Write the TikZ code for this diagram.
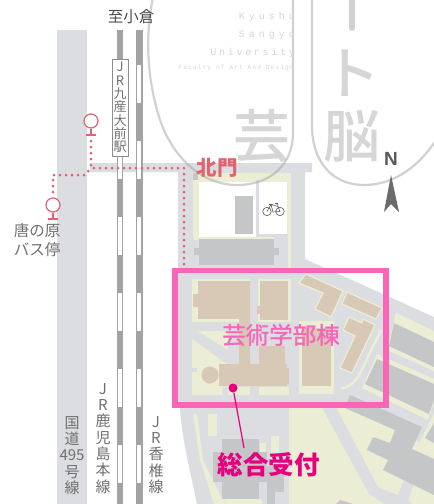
\documentclass[tikz,border=0pt]{standalone}
\usepackage{fontspec}
\setmainfont{Liberation Sans}
\newfontfamily\cjk{Noto Sans CJK JP}
\newfontfamily\cjkheavy[FakeBold=1.2]{Noto Sans CJK JP}
\newfontfamily\cjkmed{Noto Sans CJK JP Medium}
\newfontfamily\kyu[LetterSpace=40]{Liberation Mono}
\newfontfamily\kyumid[LetterSpace=27]{Liberation Mono}
\newfontfamily\kyusmall[LetterSpace=18]{Liberation Mono}
\definecolor{roadc}{HTML}{DCDDE0}
\definecolor{creamc}{HTML}{EBEED5}
\definecolor{greyb}{HTML}{C5C6C8}
\definecolor{tanb}{HTML}{D8C8B6}
\definecolor{railc}{HTML}{A3A3A4}
\definecolor{pinkf}{HTML}{F966B8}
\definecolor{magen}{HTML}{E6007E}
\definecolor{redm}{HTML}{DF6370}
\definecolor{logoc}{HTML}{A5A5A7}
\definecolor{txtc}{HTML}{707070}
\definecolor{kyuc}{HTML}{D5D5D6}
\tikzset{
  road/.style={fill=roadc},
  cream/.style={fill=creamc},
  greybld/.style={fill=greyb},
  tanbld/.style={fill=tanb,draw=creamc,line width=1.2pt},
  tanplain/.style={fill=tanb},
  raildark/.style={fill=railc},
  reddots/.style={draw=redm,line width=3pt,line cap=round,dash pattern=on 0pt off 6pt},
  busring/.style={circle,draw=redm,line width=1.2pt,minimum size=14pt,inner sep=0pt,fill=white},
  busstem/.style={draw=redm,line width=1.2pt},
  logoline/.style={draw=logoc,opacity=.5,line width=2.2pt},
  logotext/.style={text=logoc,text opacity=.45,inner sep=0pt,font=\cjkmed\fontsize{57}{57}\selectfont},
  label/.style={text=txtc,inner sep=0pt,align=center},
  vlabel/.style={label,anchor=north,font=\cjk\fontsize{15}{16.3}\selectfont},
  kyutext/.style={text=kyuc,inner sep=0pt,anchor=east},
  bike/.style={draw=black!65,line width=.6pt}
}
\begin{document}
\begin{tikzpicture}[x=1pt,y=-1pt]
\useasboundingbox (0,0) rectangle (434,504);
\clip (0,0) rectangle (434,504);
\fill[white] (0,0) rectangle (434,504);
% left road
\fill[road] (57,30) rectangle (87,504);
% campus ground and access road
\fill[road] (90,163) -- (312,163) -- (312,172) -- (305,172) -- (305,259) -- (434,317) -- (434,504) -- (197,504)
  .. controls (190,470) and (182,440) .. (180,408) -- (178,400) -- (178,172) -- (90,172) -- cycle;
% north block
\fill[cream] (193,173) rectangle (291,268);
\fill[white] (199,182) rectangle (256,237);
\fill[white] (259,182) rectangle (287,234);
\fill[road] (256,180) rectangle (259,237);
\fill[road] (259,234) rectangle (288,268);
\fill[road] (192,238) rectangle (288,268);
\fill[cream] (194,237) rectangle (274,240);
\fill[greybld] (193,173) rectangle (198,180);
\fill[greybld] (235,196) rectangle (253,234);
\fill[greybld] (199,239) rectangle (274,265);
\fill[greybld] (194,248) rectangle (279,255);
% bike
\coordinate (wa) at (267,211.5);
\coordinate (wb) at (280,211.5);
\draw[bike] (wa) circle (4.2pt);
\draw[bike] (wb) circle (4.2pt);
\draw[bike] (wa) -- (271,204.5) -- (278,206.5) -- (280,211.5) -- (273,212) -- (271,204.5);
\draw[bike] (278,206.5) -- (277.5,203.5) -- (275,203.5);
\draw[bike] (269,204) -- (273,204);
% cream inside the framed block
\fill[cream] (192,279) rectangle (253,322);
\fill[cream] (257,279) rectangle (291,322);
\fill[road] (250,279) rectangle (258,322);
\fill[cream] (198,331) -- (228,331) -- (228,350) -- cycle;
\fill[cream] (192,339) -- (228,365) -- (228,387) -- (222,387) -- (222,395) -- (192,395) -- cycle;
\fill[road] (192,368) rectangle (197,372);
\fill[cream] (228,387) rectangle (250,395);
\fill[cream] (259,387) rectangle (289,395);
\fill[cream] (299,321) rectangle (334,394);
% right and lower cream
\fill[cream] (396,313) -- (434,331) -- (434,371) -- (387,350) -- cycle;
\fill[cream] (377,354) -- (434,379) -- (434,402) -- (428,420) -- (362,388) -- cycle;
\fill[cream] (434,413) -- (417,447) -- (434,456) -- cycle;
\fill[cream] (289,405) -- (345,405) -- (434,450) -- (434,504) -- (289,504) -- cycle;
\fill[road] (318,400) -- (332,400) -- (378,487) -- (398,495) -- (404,480) -- (414,484) -- (408,500) -- (412,504) -- (385,504) -- (369,494) -- cycle;
\fill[cream] (193,414) -- (197,414) -- (203,460) -- (225,504) -- (214,504) -- (200,460) -- cycle;
\fill[cream] (208,414) rectangle (217,436);
\fill[cream] (260,443) rectangle (266,452);
\fill[cream] (271,436) rectangle (279,477);
\fill[cream] (222,499) -- (262,499) -- (262,504) -- (226,504) -- cycle;
\draw[creamc,line width=2.5pt] (341,388) .. controls (352,388) and (358,378) .. (364,365) -- (381,330);
% grey buildings
\fill[greybld] (394,323) -- (434,342) -- (434,367) -- (389,346) -- cycle;
\fill[greybld] (377,359) -- (434,384) -- (434,400) -- (429,414) -- (365,384) -- cycle;
\fill[greybld] (425,438) -- (434,423) -- (434,443) -- cycle;
\fill[greybld] (350,395) -- (422,427) -- (412,449) -- (434,459) -- (434,495) -- (383,470) -- (388,460) -- (367,450) -- (373,437) -- (390,443) -- (395,430) -- (345,408) -- cycle;
\fill[greybld] (336,504) -- (340,500) -- (353,504) -- cycle;
\fill[greybld] (222,439) rectangle (259,499);
\fill[greybld] (213,452) rectangle (267,482);
\fill[greybld] (267,466) rectangle (284,492);
\fill[greybld] (267,492) rectangle (275,504);
% tan buildings
\fill[tanplain] (198,281) rectangle (250,319);
\fill[tanplain] (193,294) rectangle (198,307);
\fill[tanplain] (239,319) rectangle (250,364);
\fill[tanplain] (260,281) rectangle (288,320);
\fill[tanplain] (257,306) rectangle (260,314);
\fill[tanplain] (259,346) rectangle (285,364);
\fill[tanplain] (219,364) rectangle (287,386);
\fill[tanplain] (287,368) rectangle (289,384);
\fill[tanplain] (210,375) circle (8.5pt);
\fill[tanplain] (302,328) rectangle (331,386);
\path[tanbld] (299,283) -- (306,274) -- (343,291) -- (331,317) -- (315,309) -- (323,293) -- cycle;
\path[tanbld] (347,292) -- (382,308) -- (376,319) -- (342,304) -- cycle;
\path[tanbld] (349,317) -- (362,323) -- (363,319) -- (375,325) -- (352,373) -- (340,368) -- (355,336) -- (343,330) -- cycle;
% rail lines
\fill[raildark] (117,30) rectangle (123.3,504);
\fill[raildark] (136,30) rectangle (142.6,504);
\foreach \y in {65,141,217,293,369,445} {
  \fill[white] (118.2,\y) rectangle (122.1,\y+38);
  \fill[white] (137.2,\y) rectangle (141.4,\y+38);
}
% station sign
\node[draw=black!45,fill=white,line width=.6pt,minimum width=16pt,minimum height=97pt,inner sep=0pt] (sign) at (120,107.5) {};
\node[label,font=\cjk\fontsize{13}{13.3}\selectfont] (signtext) at (120,107.5) {J\\R\\九\\産\\大\\前\\駅};
% logo shapes
\draw[logoline] (153,-2) .. controls (147,25) and (144,70) .. (160,120) .. controls (172,155) and (200,185) .. (237,185) .. controls (270,185) and (293,165) .. (293,133) -- (293,-2);
\draw[logoline] (312,-2) -- (312,125) .. controls (312,165) and (335,185) .. (364,185) .. controls (395,185) and (420,165) .. (436,140);
\draw[logoline,line width=6pt,line cap=round] (352,-2) -- (352,28);
\node[logotext] (geichar) at (262,136) {芸};
\node[logotext] (tochar) at (352,73) {ト};
\node[logotext] (nouchar) at (352,136) {脳};
\node[kyutext,font=\kyu\fontsize{10}{10}\selectfont] (kyua) at (295,17) {Kyushu};
\node[kyutext,font=\kyu\fontsize{10}{10}\selectfont] (kyub) at (295,35) {Sangyo};
\node[kyutext,font=\kyumid\fontsize{10}{10}\selectfont] (kyuc1) at (295,53) {University};
\node[kyutext,font=\kyusmall\fontsize{6.2}{7}\selectfont] (kyud) at (294,68) {Faculty of Art And Design};
% walking routes
\coordinate (sa) at (91,141);
\coordinate (sb) at (91,168);
\coordinate (sc) at (184,168);
\coordinate (sd) at (184,265);
\coordinate (se) at (53,192);
\coordinate (sf) at (53,175);
\coordinate (sg) at (85,175);
\draw[reddots] (sa) -- (sb) -- (sc) -- (sd);
\draw[reddots] (se) -- (sf) -- (sg) -- (sb);
\node[busring] (busa) at (91,121) {};
\node[busring] (busb) at (53,205) {};
\coordinate (busafoot) at (91,135);
\coordinate (busbfoot) at (53,219);
\draw[busstem] (busa) -- (busafoot) (86,135) -- (96,135);
\draw[busstem] (busb) -- (busbfoot) (48,219) -- (58,219);
% labels
\node[label,text=black!70,font=\cjk\fontsize{15.5}{16}\selectfont] (north) at (131,17) {至小倉};
\node[label,font=\cjk\fontsize{15.5}{19}\selectfont] (busname) at (37,240.5) {唐の原\\バス停};
\node[vlabel] (rdlabel) at (72,416) {国\\道\\495\\号\\線};
\node[vlabel] (ralabel) at (103,383) {J\\R\\鹿\\児\\島\\本\\線};
\node[vlabel] (rblabel) at (156,416) {J\\R\\香\\椎\\線};
\node[inner sep=0pt,text=redm,font=\cjk\bfseries\fontsize{20.5}{21}\selectfont] (gate) at (217,168) {北門};
\node[inner sep=0pt,text=black!65,font=\bfseries\fontsize{19}{19}\selectfont] (nmark) at (391,159) {N};
\coordinate (ntip) at (391,175);
\coordinate (nnotch) at (391,204);
\fill[black!58] (ntip) -- (399,212) -- (nnotch) -- (384,212) -- cycle;
% frame
\node[draw=pinkf,line width=5.5pt,minimum width=211pt,minimum height=134.5pt,inner sep=0pt] (frame) at (280.5,337.7) {};
\node[inner sep=0pt,text=pinkf,font=\cjkheavy\fontsize{23.5}{24}\selectfont] (bldname) at (281,335) {芸術学部棟};
\node[circle,fill=magen,minimum size=9pt,inner sep=0pt] (recdot) at (233,388) {};
\coordinate (recend) at (244,448);
\draw[magen,line width=1.2pt] (recdot) -- (recend);
\node[inner sep=0pt,text=magen,font=\cjk\bfseries\fontsize{25.5}{26}\selectfont] (reception) at (268.5,465) {総合受付};
\end{tikzpicture}
\end{document}
